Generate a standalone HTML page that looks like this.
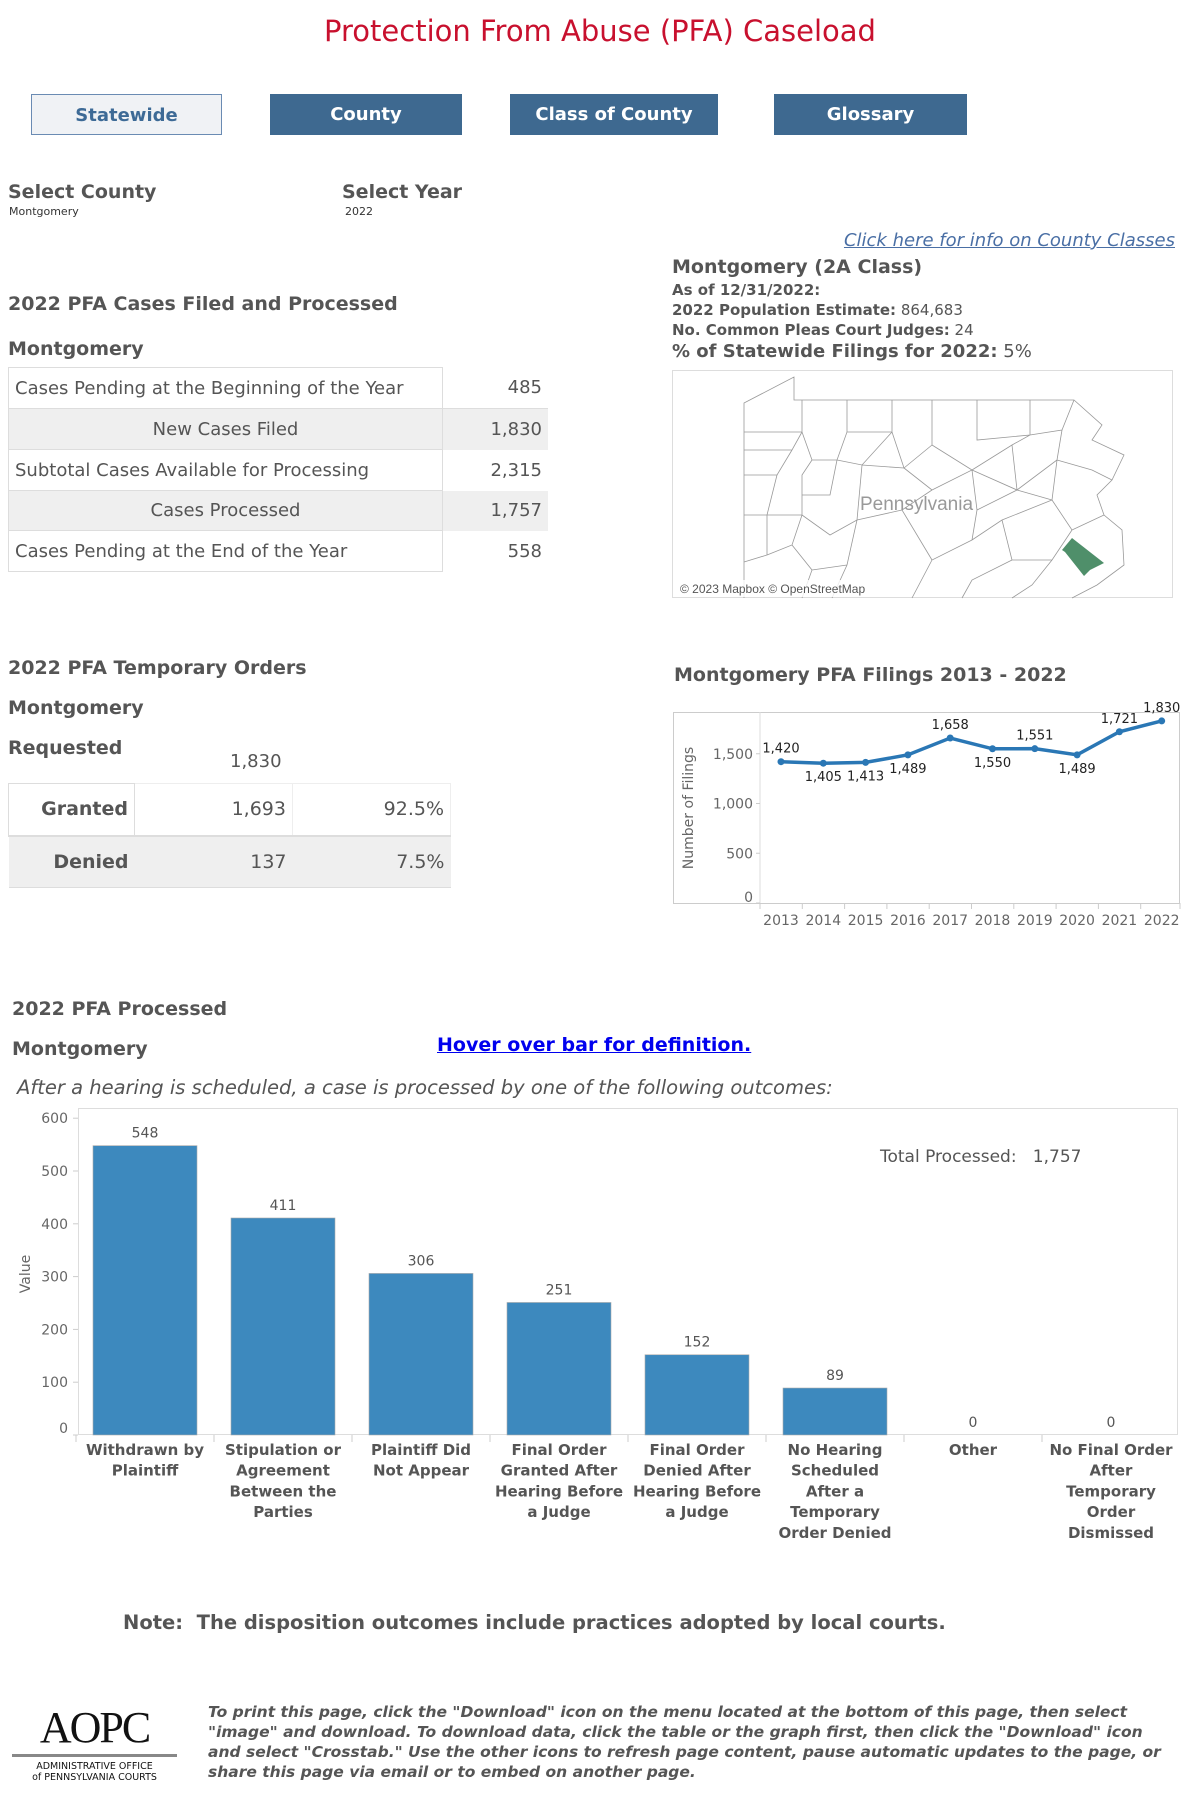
<!DOCTYPE html>
<html><head><meta charset="utf-8">
<style>
body{margin:0;width:1200px;height:1800px;background:#fff;font-family:"DejaVu Sans","Liberation Sans",sans-serif;color:#555;position:relative;overflow:hidden}
.a{position:absolute;white-space:nowrap}
.btn{position:absolute;top:94px;height:41px;line-height:41px;text-align:center;font-weight:bold;font-size:18px;background:#3e6990;color:#fff;box-sizing:border-box}
.h{font-weight:bold;font-size:19px;color:#555}
table{border-collapse:collapse}
</style></head><body>
<div class="a" style="left:0;width:1200px;text-align:center;top:14px;font-size:29px;color:#c8102e">Protection From Abuse (PFA) Caseload</div>

<div class="btn" style="left:31px;width:191px;background:#f0f2f5;color:#3d6a96;border:1px solid #6a8bb3">Statewide</div>
<div class="btn" style="left:270px;width:192px">County</div>
<div class="btn" style="left:510px;width:208px">Class of County</div>
<div class="btn" style="left:774px;width:193px">Glossary</div>

<div class="a h" style="left:8px;top:181px">Select County</div>
<div class="a" style="left:9px;top:205px;font-size:11px;color:#333">Montgomery</div>
<div class="a h" style="left:342px;top:181px">Select Year</div>
<div class="a" style="left:345px;top:205px;font-size:11px;color:#333">2022</div>

<div class="a" style="right:25px;top:230px;font-size:18px;font-style:italic;color:#4a6fa5;text-decoration:underline">Click here for info on County Classes</div>

<div class="a h" style="left:672px;top:256px;font-size:19px">Montgomery (2A Class)</div>
<div class="a" style="left:672px;top:281px;font-size:15px;font-weight:bold">As of 12/31/2022:</div>
<div class="a" style="left:672px;top:301px;font-size:15px"><b>2022 Population Estimate:</b> 864,683</div>
<div class="a" style="left:672px;top:321px;font-size:15px"><b>No. Common Pleas Court Judges:</b> 24</div>
<div class="a" style="left:672px;top:341px;font-size:18px"><b>% of Statewide Filings for 2022:</b> 5%</div>

<div class="a h" style="left:8px;top:293px">2022 PFA Cases Filed and Processed</div>
<div class="a h" style="left:8px;top:338px">Montgomery</div>
<table class="a" style="left:8px;top:367px;font-size:18px;color:#555">
<tr style="height:41px"><td style="width:426px;padding-left:6px;border:1px solid #ddd">Cases Pending at the Beginning of the Year</td><td style="width:98px;text-align:right;padding-right:6px;border-bottom:1px solid #ddd">485</td></tr>
<tr style="height:41px;background:#efefef"><td style="text-align:center;border:1px solid #ddd">New Cases Filed</td><td style="text-align:right;padding-right:6px">1,830</td></tr>
<tr style="height:41px"><td style="padding-left:6px;border:1px solid #ddd">Subtotal Cases Available for Processing</td><td style="text-align:right;padding-right:6px">2,315</td></tr>
<tr style="height:40px;background:#efefef"><td style="text-align:center;border:1px solid #ddd">Cases Processed</td><td style="text-align:right;padding-right:6px">1,757</td></tr>
<tr style="height:41px"><td style="padding-left:6px;border:1px solid #ddd">Cases Pending at the End of the Year</td><td style="text-align:right;padding-right:6px">558</td></tr>
</table>

<svg class="a" style="left:672px;top:370px" width="502" height="229">
<rect x="0.5" y="0.5" width="500" height="227" fill="#fff" stroke="#ddd"/>
<g fill="none" stroke="#999" stroke-width="0.8">
<path d="M72,228 L72,33 L122,7 L122,30 L402,30 L430,55 L420,70 L452,85 L440,110 L425,125 L432,145 L450,160 L452,195 L425,215 L400,228"/>
<path d="M72,62 L130,62 L130,30 M175,30 L175,62 L220,62 L220,30 M260,30 L260,75 M305,30 L305,70 L358,65 L358,30 M130,62 L120,80 L72,80 M120,80 L105,105 L72,105 M105,105 L95,145 L72,145 M95,145 L95,185 L72,192 M130,62 L140,90 L165,90 L175,62 M140,90 L130,105 L130,145 L95,145 M165,90 L158,125 L130,125 M165,90 L190,95 L220,62 M190,95 L185,150 L158,165 L130,145 M220,62 L232,98 L260,75 M232,98 L190,95 M260,75 L300,100 L260,120 L232,98 M300,100 L340,75 L358,65 L390,60 L402,30 M340,75 L345,120 L300,100 M345,120 L305,140 L300,100 M390,60 L385,90 L345,120 M385,90 L420,100 L440,110 M385,90 L380,130 L400,160 L432,145 M380,130 L345,120 M380,130 L330,150 L300,170 L260,190 L240,228 M300,170 L305,140 M260,190 L230,140 L260,120 M230,140 L185,150 M185,150 L175,195 L160,228 M130,145 L120,175 L95,185 M120,175 L140,200 L130,228 M175,195 L140,200 M400,160 L380,190 L360,215 L340,228 M330,150 L340,190 L300,210 L290,228 M340,190 L380,190"/>
</g>
<path d="M400,168 L432,193 L418,200 L412,206 L393,182 L390,180 Z" fill="#4f8f6a"/>
<text x="188" y="140" font-size="19" fill="#999" font-family="Liberation Sans, sans-serif">Pennsylvania</text>
<rect x="4" y="210" width="215" height="17" fill="#fff" opacity="0.8"/>
<text x="8" y="223" font-size="12" fill="#555" font-family="Liberation Sans, sans-serif">© 2023 Mapbox © OpenStreetMap</text>
</svg>

<div class="a h" style="left:8px;top:657px">2022 PFA Temporary Orders</div>
<div class="a h" style="left:8px;top:697px">Montgomery</div>
<div class="a h" style="left:8px;top:737px">Requested</div>
<div class="a" style="left:230px;top:751px;font-size:18px">1,830</div>
<table class="a" style="left:8px;top:783px;font-size:19px;color:#555">
<tr style="height:52px"><td style="width:118px;text-align:right;padding-right:6px;font-weight:bold;border:1px solid #ddd">Granted</td><td style="width:150px;text-align:right;padding-right:6px;border:1px solid #eee">1,693</td><td style="width:150px;text-align:right;padding-right:6px;border:1px solid #eee">92.5%</td></tr>
<tr style="height:52px;background:#efefef"><td style="text-align:right;padding-right:6px;font-weight:bold;border-top:2px solid #ddd;border-bottom:1px solid #ddd">Denied</td><td style="text-align:right;padding-right:6px;border-top:2px solid #ddd;border-bottom:1px solid #ddd">137</td><td style="text-align:right;padding-right:6px;border-top:2px solid #ddd;border-bottom:1px solid #ddd">7.5%</td></tr>
</table>

<div class="a h" style="left:674px;top:664px;font-size:19px">Montgomery PFA Filings 2013 - 2022</div>
<svg class="a" id="lc" style="left:0;top:0" width="1200" height="960"></svg>

<div class="a h" style="left:12px;top:998px">2022 PFA Processed</div>
<div class="a h" style="left:12px;top:1038px">Montgomery</div>
<div class="a" style="left:437px;top:1034px;font-size:19px;font-weight:bold;color:#0000ee;text-decoration:underline">Hover over bar for definition.</div>
<div class="a" style="left:17px;top:1076px;font-size:19.5px;font-style:italic">After a hearing is scheduled, a case is processed by one of the following outcomes:</div>
<svg class="a" id="bc" style="left:0;top:0" width="1200" height="1560"></svg>

<div class="a" style="left:123px;top:1611px;font-size:19.5px;font-weight:bold">Note:&nbsp; The disposition outcomes include practices adopted by local courts.</div>

<div class="a" style="left:12px;top:1705px;width:165px;text-align:center;color:#111">
<div style="font-family:'Liberation Serif',serif;font-size:44px;line-height:46px;letter-spacing:-2px">AOPC</div>
<div style="height:3px;background:#888;margin:3px 0 4px"></div>
<div style="font-size:9.5px;line-height:11px">ADMINISTRATIVE OFFICE<br>of PENNSYLVANIA COURTS</div>
</div>
<div class="a" style="left:208px;top:1702px;font-size:15.5px;font-weight:bold;font-style:italic;line-height:20px;white-space:normal;width:960px">To print this page, click the "Download" icon on the menu located at the bottom of this page, then select "image" and download. To download data, click the table or the graph first, then click the "Download" icon and select "Crosstab." Use the other icons to refresh page content, pause automatic updates to the page, or share this page via email or to embed on another page.</div>

<script>
const years=["2013","2014","2015","2016","2017","2018","2019","2020","2021","2022"];
const filings=[1420,1405,1413,1489,1658,1550,1551,1489,1721,1830];
const yTicks=[0,500,1000,1500];
const labelAbove=[true,false,false,false,true,false,true,false,true,true];

const categories=[["Withdrawn by","Plaintiff"],["Stipulation or","Agreement","Between the","Parties"],["Plaintiff Did","Not Appear"],["Final Order","Granted After","Hearing Before","a Judge"],["Final Order","Denied After","Hearing Before","a Judge"],["No Hearing","Scheduled","After a","Temporary","Order Denied"],["Other"],["No Final Order","After","Temporary","Order","Dismissed"]];
const processed=[548,411,306,251,152,89,0,0];
const barTicks=[0,100,200,300,400,500,600];

const NS="http://www.w3.org/2000/svg";
function mk(svg,t,at,txt){const e=document.createElementNS(NS,t);for(const k in at)e.setAttribute(k,at[k]);if(txt!==undefined)e.textContent=txt;svg.appendChild(e);return e;}
function fmt(v){return v.toLocaleString("en-US");}

// line chart
const lc=document.getElementById("lc");
const lx=i=>781+i*42.3, ly=v=>903-v*0.0995;
let fr=mk(lc,"rect",{x:673.5,y:712.5,width:506,height:191,fill:"none",stroke:"#ccc"});

mk(lc,"line",{x1:760,y1:712,x2:760,y2:903,stroke:"#ddd"});
yTicks.forEach(t=>{let e=mk(lc,"text",{x:753,y:Math.min(ly(t),897)+5,"text-anchor":"end","font-size":14,fill:"#666"},fmt(t));

mk(lc,"line",{x1:756,x2:760,y1:ly(t),y2:ly(t),stroke:"#ccc"});});
let yt=mk(lc,"text",{transform:"translate(693,808) rotate(-90)","text-anchor":"middle","font-size":14,fill:"#666"},"Number of Filings");

years.forEach((y,i)=>{let e=mk(lc,"text",{x:lx(i),y:925,"text-anchor":"middle","font-size":14,fill:"#666"},y);

mk(lc,"line",{x1:lx(i)-21,x2:lx(i)-21,y1:903,y2:909,stroke:"#ccc"});});
mk(lc,"line",{x1:1180,x2:1180,y1:903,y2:909,stroke:"#ccc"});
let pl=mk(lc,"polyline",{points:filings.map((v,i)=>lx(i)+","+ly(v)).join(" "),fill:"none",stroke:"#2a77b5","stroke-width":3.5});

filings.forEach((v,i)=>{let c=mk(lc,"circle",{cx:lx(i),cy:ly(v),r:3.5,fill:"#2a77b5"});

let t=mk(lc,"text",{x:lx(i),y:labelAbove[i]?ly(v)-9:ly(v)+18,"text-anchor":"middle","font-size":13,fill:"#222"},fmt(v));
});

// bar chart
const bc=document.getElementById("bc");
const bw=138, bx=i=>76+bw*i, by=v=>1435-v*0.528;
let bf=mk(bc,"rect",{x:78.5,y:1108.5,width:1099,height:326,fill:"none",stroke:"#ddd"});

barTicks.forEach(t=>{let e=mk(bc,"text",{x:68,y:Math.min(by(t),1428)+5,"text-anchor":"end","font-size":14,fill:"#666"},fmt(t));

mk(bc,"line",{x1:73,x2:78,y1:by(t),y2:by(t),stroke:"#ccc"});});
let vt=mk(bc,"text",{transform:"translate(30,1274) rotate(-90)","text-anchor":"middle","font-size":14,fill:"#666"},"Value");

processed.forEach((v,i)=>{const x=bx(i);
let r=mk(bc,"rect",{x:x+17,y:by(v),width:104,height:1435-by(v),fill:"#3d89be",stroke:"#aaa","stroke-width":0.6});

let t=mk(bc,"text",{x:x+69,y:by(v)-8,"text-anchor":"middle","font-size":14,fill:"#555"},fmt(v));

mk(bc,"line",{x1:x,x2:x,y1:1435,y2:1442,stroke:"#ccc"});
categories[i].forEach((ln,j)=>{let c=mk(bc,"text",{x:x+69,y:1455+j*20.7,"text-anchor":"middle","font-size":15,"font-weight":"bold",fill:"#555"},ln);
});});
let tp=mk(bc,"text",{x:880,y:1162,"font-size":17,fill:"#555",style:"white-space:pre"},"Total Processed:   1,757");

</script>
</body></html>
